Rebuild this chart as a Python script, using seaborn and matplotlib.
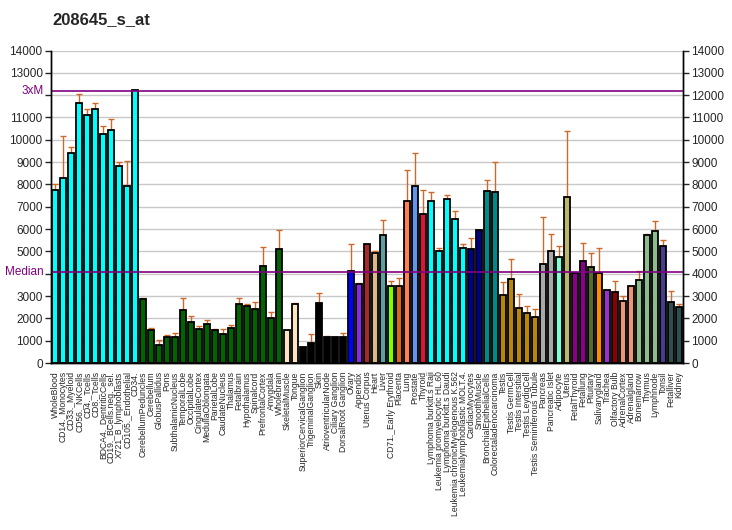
import matplotlib
matplotlib.use("Agg")
import matplotlib.pyplot as plt
import seaborn as sns
import pandas as pd

title = "208645_s_at"

categories = [
    "WholeBlood", "CD14._Monocytes", "CD33._Myeloid", "CD56._NKCells", "CD4._Tcells",
    "CD8._Tcells", "BDCA4._DentriticCells", "CD19._BCells.neg._sel.", "X721_B_lymphoblasts",
    "CD105._Endothelial", "CD34.",
    "CerebellumPeduncles", "Cerebellum", "GlobusPallidus", "Pons", "SubthalamicNucleus",
    "TemporalLobe", "OccipitalLobe", "CingulateCortex", "MedullaOblongata", "ParietalLobe",
    "CaudateNucleus", "Thalamus", "Fetalbrain", "Hypothalamus", "Spinalcord",
    "PrefrontalCortex", "Amygdala", "Wholebrain",
    "SkeletalMuscle", "Tongue",
    "SuperiorCervicalGanglion", "TrigeminalGanglion", "Skin", "AtrioventricularNode",
    "Ciliary Ganglion", "DorsalRoot Ganglion",
    "Ovary", "Appendix", "Uterus Corpus", "Heart", "Liver", "CD71._Early Erythroid",
    "Placenta", "Lung", "Prostate", "Thyroid",
    "Lymphoma burkitt.s Raji", "Leukemia promyelocytic HL.60", "Lymphoma burkitt.s Daudi",
    "Leukemia chronicMyelogenous K.562", "Leukemialymphoblastic MOLT.4.",
    "CardiacMyocytes", "SmoothMuscle", "BronchialEpithelialCells", "Colorectaladenocarcinoma",
    "Testis", "Testis GermCell", "Testis Intersitial", "Testis LeydigCell",
    "Testis Seminiferous Tubule",
    "Pancreas", "Pancreatic Islet", "Adipocyte", "Uterus", "FetalThyroid", "Fetallung",
    "Pituitary", "Salivarygland", "Trachea", "Olfactory Bulb", "AdrenalCortex",
    "Adrenalgland", "Bonemarrow", "Thymus", "Lymphnode", "Tonsil", "Fetalliver", "Kidney",
]

values = [
    7730, 8280, 9430, 11670, 11130, 11400, 10240, 10460, 8810, 7910, 12210,
    2870, 1460, 810, 1160, 1160, 2360, 1820, 1520, 1740, 1480,
    1300, 1570, 2630, 2540, 2420, 4330, 2000, 5090,
    1460, 2640,
    720, 900, 2670, 1160, 1160, 1160,
    4120, 3520, 5310, 4910, 5720, 3430, 3430, 7280, 7910, 6660,
    7240, 5040, 7330, 6430, 5130,
    5090, 5940, 7690, 7640,
    3030, 3750, 2450, 2220, 2040,
    4420, 5040, 4750, 7420, 4050, 4550, 4300, 4040, 3250, 3160, 2760,
    3450, 3700, 5730, 5900, 5220, 2720, 2490,
]

err_top = [
    8000, 10150, 9660, 12030, 11400, 11670, 10600, 10940, 8985, 9030, 12210,
    2910, 1550, 1015, 1240, 1330, 2900, 2090, 1640, 1910, 1510,
    1510, 1690, 2910, 2630, 2720, 5180, 2270, 5940,
    1460, 2670,
    720, 1280, 3120, 1190, 1160, 1330,
    5330, 3570, 5310, 5040, 6390, 3690, 3790, 8630, 9390, 7730,
    7640, 5130, 7510, 6790, 5310,
    5580, 5940, 8180, 8990,
    3610, 4640, 3070, 2540, 2400,
    6520, 5790, 5220, 10400, 4050, 5390, 4910, 5130, 3250, 3690, 2990,
    3450, 4100, 5760, 6360, 5490, 3210, 2630,
]

bar_colors = (
    ["#00FFFF"] * 11 + ["#006400"] * 18 + ["#FFE4C4"] * 2 + ["#000000"] * 6 +
    ["#0000FF", "#8A2BE2", "#A52A2A", "#DEB887", "#5F9EA0", "#7FFF00", "#D2691E",
     "#FF7F50", "#6495ED", "#DC143C"] +
    ["#00FFFF"] * 5 + ["#00008B"] * 2 + ["#008B8B"] * 2 + ["#B8860B"] * 5 +
    ["#A9A9A9"] * 2 + ["#7FFFD4", "#BDB76B", "#8B008B", "#8B008B", "#556B2F",
                       "#FF8C00", "#9932CC", "#8B0000", "#E9967A", "#E9967A"] +
    ["#8FBC8F"] * 3 + ["#483D8B", "#2F4F4F", "#2F4F4F"]
)

median_value = 4060
ymax = 14000

df = pd.DataFrame({"tissue": categories, "value": values})

sns.set_style("white")
plt.rcParams["font.family"] = ["Liberation Sans", "DejaVu Sans"]

fig = plt.figure(figsize=(7.32, 5.30), dpi=100)
ax = fig.add_axes([51 / 732, 1 - 363 / 530, 632 / 732, 312.5 / 530])

sns.barplot(data=df, x="tissue", y="value", hue="tissue", palette=bar_colors,
            legend=False, ax=ax, width=0.8, edgecolor="black", linewidth=1.3,
            saturation=1, errorbar=None, zorder=3)

xs = ax.get_xticks()
lower = [0] * len(values)
upper = [t - v for t, v in zip(err_top, values)]
ax.errorbar(xs, values, yerr=[lower, upper], fmt="none", ecolor="#CC6A2C",
            elinewidth=1.0, capsize=2.5, capthick=1.0, zorder=2)

ax.set_xlim(-0.5, len(categories) - 0.5)
ax.set_ylim(0, ymax)
ax.set_xlabel("")
ax.set_ylabel("")

yt = list(range(0, ymax + 1, 1000))
ax.set_yticks(yt)
ax.yaxis.grid(True, color="#C8C8C8", linewidth=1.0, zorder=0)
ax.set_axisbelow(True)

left_labels = [str(v) for v in yt]
left_labels[4] = ""
left_labels[12] = ""
ax.set_yticklabels(left_labels, fontsize=8.5)
ax.tick_params(axis="y", direction="out", length=4, width=1, pad=2)
ax.tick_params(axis="x", direction="out", length=4, width=1, pad=2)
ax.set_xticks(xs)
ax.set_xticklabels(categories, rotation=90, fontsize=6.2, va="top", ha="center")

ax2 = ax.twinx()
ax2.set_ylim(0, ymax)
ax2.set_yticks(yt)
ax2.set_yticklabels([str(v) for v in yt], fontsize=8.5)
ax2.tick_params(axis="y", direction="out", length=4, width=1, pad=2)

ax.axhline(median_value, color="#800080", linewidth=1.2, zorder=4)
ax.axhline(3 * median_value, color="#800080", linewidth=1.2, zorder=4)
ax.text(-0.012, median_value, "Median", transform=ax.get_yaxis_transform(),
        ha="right", va="center", color="#800080", fontsize=8.5)
ax.text(-0.012, 3 * median_value, "3xM", transform=ax.get_yaxis_transform(),
        ha="right", va="center", color="#800080", fontsize=8.5)

for a in (ax, ax2):
    a.spines["top"].set_visible(False)
    for side in ("left", "right", "bottom"):
        a.spines[side].set_color("black")
        a.spines[side].set_linewidth(1)

fig.text(52 / 732, 1 - 20 / 530, title, fontsize=12, fontweight="bold",
         ha="left", va="center")

fig.savefig("out.png", dpi=100)
